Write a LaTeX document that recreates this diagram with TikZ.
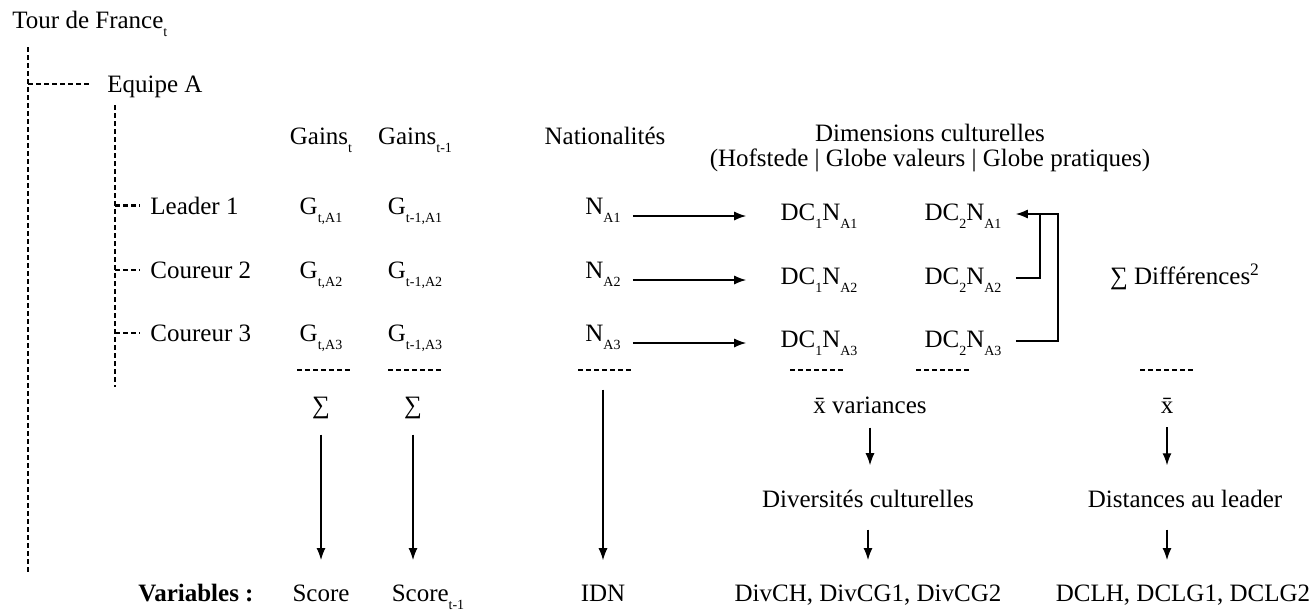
\documentclass[tikz,border=0pt]{standalone}
\usepackage{fontspec}
\setmainfont{Liberation Serif}
\usetikzlibrary{arrows.meta}
\newcommand{\ind}[1]{\raisebox{-0.7ex}{\fontsize{7}{8}\selectfont #1}}
\begin{document}
\begin{tikzpicture}[x=0.5pt,y=-0.5pt,
    every node/.style={font=\fontsize{12.5}{14}\selectfont,inner sep=0pt},
    tree/.style={line width=1.2pt,dash pattern=on 2.5pt off 1.5pt},
    arr/.style={-{Latex[length=6pt,width=4.5pt]},line width=0.6pt},
    link/.style={line width=0.6pt}]
\useasboundingbox (0,0) rectangle (1316,611);

% arbre
\node[anchor=base west] (tdf) at (12,28) {Tour de France\ind{t}};
\node[anchor=base west] (equipe) at (107,92) {Equipe A};
\node[anchor=base west] (r1) at (150,214) {Leader 1};
\node[anchor=base west] (r2) at (150,278) {Coureur 2};
\node[anchor=base west] (r3) at (150,341) {Coureur 3};
\coordinate (t0) at (28,47);
\coordinate (t1) at (28,572);
\coordinate (e0) at (115,105);
\coordinate (e1) at (115,387);
\coordinate (eq) at ([shift={(-15,-8)}]equipe.base west);
\draw[tree] (t0) -- (t1);
\draw[tree] (t0 |- eq) -- (eq);
\draw[tree] (e0) -- (e1);
\foreach \i in {1,2,3}
    \draw[tree] (e0 |- r\i.west) -- ([shift={(-10,0)}]r\i.west);

% en-tetes
\node[anchor=base] (hg) at (321,144) {Gains\ind{t}};
\node[anchor=base] (hgp) at (415,144) {Gains\ind{t-1}};
\node[anchor=base] (hn) at (605,144) {Nationalités};
\node[anchor=base] (hd) at (930,141) {Dimensions culturelles};
\node[anchor=base] (hd2) at (930,166) {(Hofstede | Globe valeurs | Globe pratiques)};

% coureurs
\foreach \i/\y in {1/214,2/278,3/341}{
    \node[anchor=base] (g\i) at (321,\y) {G\ind{t,A\i}};
    \node[anchor=base] (gp\i) at (415,\y) {G\ind{t-1,A\i}};
    \node[anchor=base] (n\i) at (603,\y) {N\ind{A\i}};
    \node[anchor=base] (da\i) at (819,\y+6) {DC\ind{1}N\ind{A\i}};
    \node[anchor=base] (db\i) at (963,\y+6) {DC\ind{2}N\ind{A\i}};
    \coordinate (na\i) at ([shift={(12,2)}]n\i.base east);
    \draw[arr] (na\i) -- ([shift={(-34,0)}]na\i -| da\i.west);
    \coordinate (b\i) at ([shift={(14,-6)}]db\i.base east);
}
\node[anchor=base] (sdiff) at (1185,284) {∑ Différences\textsuperscript{2}};
\coordinate (v1) at (1040,0);
\coordinate (v2) at (1058,0);
\draw[link] (b2) -| (v1 |- b1);
\draw[arr] (b3) -| (v2 |- b1) -- (b1);

% soulignements
\foreach \x in {324,415,605,817,943,1167}
    \draw[tree] (\x-27,370) -- (\x+27,370);

% calculs
\node[anchor=base] (s1) at (321,413) {∑};
\node[anchor=base] (s2) at (413,413) {∑};
\node[anchor=base] (xv) at (870,413) {\={x} variances};
\node[anchor=base] (xm) at (1167,413) {\={x}};
\node[anchor=base] (dcult) at (868,507) {Diversités culturelles};
\node[anchor=base] (dlead) at (1185,507) {Distances au leader};

% variables
\node[anchor=base] (vlab) at (196,601) {\bfseries Variables :};
\node[anchor=base] (score) at (321,601) {Score};
\node[anchor=base] (score1) at (428,601) {Score\ind{t-1}};
\node[anchor=base] (idn) at (603,601) {IDN};
\node[anchor=base] (vdiv) at (868,601) {DivCH, DivCG1, DivCG2};
\node[anchor=base] (vdcl) at (1183,601) {DCLH, DCLG1, DCLG2};

\draw[arr,shorten <=8pt,shorten >=12pt] (s1.south) -- (score.north);
\draw[arr,shorten <=8pt,shorten >=12pt] (s2.south) -- (s2.south |- score1.north);
\draw[arr,shorten <=20pt,shorten >=12pt] (n3.south) -- (idn.north);
\draw[arr,shorten <=7pt,shorten >=12pt] (xv.south) -- (xv.south |- dcult.north);
\draw[arr,shorten <=7pt,shorten >=12pt] (xm.south) -- (xm.south |- dlead.north);
\draw[arr,shorten <=11pt,shorten >=12pt] (dcult.south) -- (dcult.south |- vdiv.north);
\draw[arr,shorten <=11pt,shorten >=12pt] (xm.south |- dlead.south) -- (xm.south |- vdcl.north);
\end{tikzpicture}
\end{document}
